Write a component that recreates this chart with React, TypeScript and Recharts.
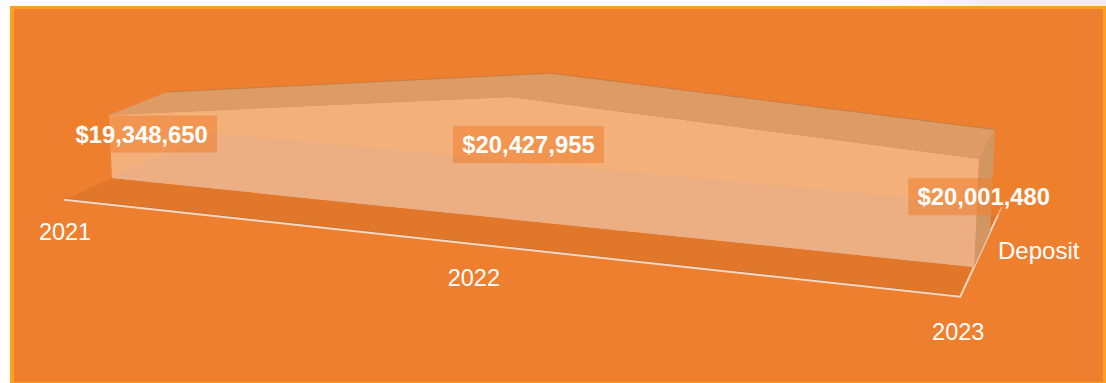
import { Line, LineChart, LabelList, XAxis, YAxis } from "recharts"

const years = ["2021", "2022", "2023"]
const deposits = [19348650, 20427955, 20001480]
const seriesName = "Deposit"

const chartData = years.map((year, i) => ({ year, deposit: deposits[i] }))

const WIDTH = 1106
const HEIGHT = 383
const AXIS_HEIGHT = 1
const PLOT_HEIGHT = HEIGHT - AXIS_HEIGHT
const AXIS_MIN = 18000000
const AXIS_MAX = 22000000
// px of height per full axis range, before perspective
const RISE = 189.2

// floor runs in front of and behind the box, box itself sits between depth 0 and 1
const FLOOR_FRONT = -0.76
const FLOOR_BACK = 1.8

// small sideways corrections for the text, one per category
const tickShift = [1, -3, -2]
const tagShift = [1.5, -2.5, -1]

// perspective camera: u across the categories, h up the values, d into the page
function project(u: number, h: number, d: number) {
  const w = 1 - 0.14 * u - 0.000108 * h + 0.0531 * d
  const x = 112 + 725.6 * u - 0.0596 * h + 66.5 * d
  const y = 178 + 51.6 * u - h - 17.9 * d
  return [x / w, y / w]
}

const toU = (cx: number) => cx / WIDTH
const toH = (cy: number) => ((PLOT_HEIGHT - cy) / PLOT_HEIGHT) * RISE

const poly = (pts: number[][]) => pts.map((p) => `${p[0].toFixed(2)},${p[1].toFixed(2)}`).join(" ")

function BoxFaces(props: any) {
  const { index, points } = props
  if (index !== 0) return <g key={`box-${index}`} />

  const tops = points.map((p: any) => ({ u: toU(p.x), h: toH(p.y) }))
  const last = tops[tops.length - 1]

  const frontTop = tops.map((t: any) => project(t.u, t.h, 0))
  const backTop = tops.map((t: any) => project(t.u, t.h, 1))
  const front = [project(0, 0, 0), ...frontTop, project(1, 0, 0)]
  const top = [...frontTop, ...[...backTop].reverse()]
  const side = [project(1, 0, 0), project(1, last.h, 0), project(1, last.h, 1), project(1, 0, 1)]
  const floor = [
    project(0, 0, FLOOR_FRONT),
    project(1, 0, FLOOR_FRONT),
    project(1, 0, FLOOR_BACK),
    project(0, 0, FLOOR_BACK),
  ]

  const rail = [project(0, 0, FLOOR_FRONT), project(1, 0, FLOOR_FRONT), project(1, 0, FLOOR_BACK)]
  const depthMid = project(1, 0, 0.525)

  return (
    <g key="box">
      <defs>
        <clipPath id="front-face">
          <polygon points={poly(front)} />
        </clipPath>
      </defs>
      <polygon points={poly(floor)} fill="#e0772a" />
      <polyline points={poly(rail.map((p) => [p[0], p[1] - 1]))} fill="none" stroke="#a8673a" strokeOpacity={0.7} strokeWidth={1} />
      <polyline points={poly(rail)} fill="none" stroke="#f6d8c2" strokeWidth={2} />
      <polygon points={poly(side)} fill="#d29663" />
      <polygon points={poly(front)} fill="#f3b07b" />
      <polygon points={poly(floor)} fill="#ecae83" clipPath="url(#front-face)" />
      <polygon points={poly(top)} fill="#dd9b66" />
      <polyline points={poly(backTop)} fill="none" stroke="#a5723f" strokeOpacity={0.5} strokeWidth={1} />
      <text
        x={depthMid[0] + 56}
        y={depthMid[1] + 2}
        textAnchor="middle"
        dominantBaseline="central"
        fill="#ffffff"
        fontSize={24}
      >
        {seriesName}
      </text>
    </g>
  )
}

function YearTick(props: any) {
  const { x, payload, index } = props
  const u = toU(x)
  const [px, py] = project(u, 0, FLOOR_FRONT)
  return (
    <text
      x={px + tickShift[index]}
      y={py + 32 + 3 * u}
      textAnchor="middle"
      dominantBaseline="central"
      fill="#ffffff"
      fontSize={23.5}
    >
      {payload.value}
    </text>
  )
}

// value tag sits at half the height, halfway into the box
function ValueTag(props: any) {
  const { x, y, value, index } = props
  const [px, py] = project(toU(x), toH(y) / 2, 0.5)
  const cx = px + tagShift[index]
  return (
    <g key={`tag-${index}`}>
      <rect x={cx - 75.5} y={py - 18.5} width={151} height={37} fill="#ee7f2e" fillOpacity={0.55} />
      <text
        x={cx}
        y={py}
        textAnchor="middle"
        dominantBaseline="central"
        fill="#ffffff"
        fontSize={23.8}
        fontWeight="bold"
      >
        {"$" + Number(value).toLocaleString("en-US")}
      </text>
    </g>
  )
}

export default function App() {
  return (
    <div
      style={{
        position: "fixed",
        left: 0,
        top: 0,
        width: WIDTH,
        height: HEIGHT,
        background: "linear-gradient(90deg, #ffffff 78%, #f3ece6 90%)",
        fontFamily: "'Liberation Sans', Arial, sans-serif",
      }}
    >
      <div
        style={{
          position: "absolute",
          left: 10,
          top: 6,
          right: 0,
          bottom: 0,
          boxSizing: "border-box",
          background: "#ee7f2e",
          borderStyle: "solid",
          borderColor: "#fba11f",
          borderWidth: "3px 3px 1px 4px",
        }}
      />
      <LineChart
        width={WIDTH}
        height={HEIGHT}
        data={chartData}
        margin={{ top: 0, right: 0, bottom: 0, left: 0 }}
        style={{ position: "absolute", left: 0, top: 0 }}
      >
        <XAxis
          dataKey="year"
          height={AXIS_HEIGHT}
          interval={0}
          axisLine={false}
          tickLine={false}
          tick={<YearTick />}
        />
        <YAxis hide domain={[AXIS_MIN, AXIS_MAX]} />
        <Line
          dataKey="deposit"
          name={seriesName}
          stroke="none"
          dot={BoxFaces}
          activeDot={false}
          isAnimationActive={false}
        >
          <LabelList dataKey="deposit" content={ValueTag} />
        </Line>
      </LineChart>
    </div>
  )
}
